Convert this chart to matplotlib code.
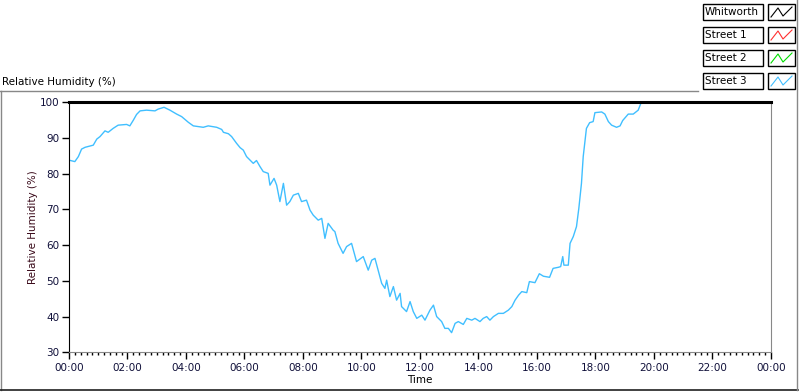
import numpy as np
import matplotlib
matplotlib.use("Agg")
import matplotlib.pyplot as plt
from matplotlib.ticker import MultipleLocator, FuncFormatter
from matplotlib.lines import Line2D
from matplotlib.patches import Rectangle

# ---- data (hours since midnight, % RH) ----
street3_hours = [0.0, 0.2, 0.32, 0.43, 0.55, 0.83, 0.95, 1.06, 1.23, 1.34, 1.51, 1.68, 1.97,
                 2.08, 2.2, 2.31, 2.43, 2.65, 2.94, 3.05, 3.25, 3.45, 3.68, 3.85, 4.08, 4.25,
                 4.59, 4.76, 5.05, 5.22, 5.28, 5.45, 5.56, 5.73, 5.85, 5.96, 6.07, 6.19, 6.3,
                 6.41, 6.53, 6.64, 6.81, 6.87, 7.01, 7.1, 7.21, 7.33, 7.44, 7.55, 7.67, 7.84,
                 7.95, 8.12, 8.24, 8.35, 8.52, 8.64, 8.75, 8.86, 9.03, 9.09, 9.2, 9.37, 9.49,
                 9.66, 9.83, 10.06, 10.23, 10.35, 10.46, 10.57, 10.69, 10.8, 10.86, 10.97,
                 11.09, 11.2, 11.32, 11.37, 11.54, 11.66, 11.77, 11.89, 12.06, 12.17, 12.34,
                 12.46, 12.57, 12.74, 12.85, 12.97, 13.08, 13.2, 13.31, 13.48, 13.6, 13.77,
                 13.88, 14.05, 14.16, 14.28, 14.39, 14.51, 14.68, 14.85, 15.02, 15.14, 15.25,
                 15.37, 15.48, 15.65, 15.74, 15.93, 16.08, 16.22, 16.43, 16.55, 16.73, 16.81,
                 16.88, 16.92, 17.07, 17.13, 17.24, 17.35, 17.43, 17.52, 17.58, 17.63, 17.69,
                 17.8, 17.92, 17.98, 18.21, 18.32, 18.44, 18.55, 18.72, 18.84, 18.93, 19.12,
                 19.29, 19.46, 19.55, 19.62]
street3_rh = [83.8, 83.4, 84.8, 86.9, 87.4, 88.0, 89.7, 90.4, 92.0, 91.6, 92.7, 93.6, 93.8,
              93.4, 95.0, 96.6, 97.6, 97.8, 97.6, 98.1, 98.6, 97.8, 96.7, 96.0, 94.4, 93.4,
              93.0, 93.4, 93.0, 92.4, 91.6, 91.2, 90.4, 88.5, 87.3, 86.6, 84.8, 83.8, 82.9,
              83.7, 82.0, 80.6, 80.1, 76.8, 78.7, 76.8, 72.2, 77.3, 71.2, 72.2, 74.0, 74.5,
              72.2, 72.6, 69.8, 68.4, 67.0, 67.5, 61.9, 66.1, 64.2, 63.8, 60.5, 57.7, 59.6,
              60.5, 55.4, 56.8, 53.0, 55.8, 56.3, 53.0, 49.3, 47.9, 50.2, 45.6,
              48.4, 44.6, 46.5, 42.8, 41.4, 44.2, 41.4, 39.5, 40.4, 39.0, 41.8,
              43.2, 40.0, 38.6, 36.7, 36.7, 35.5, 38.1, 38.6, 37.8, 39.5, 39.0,
              39.5, 38.6, 39.5, 40.0, 39.0, 40.0, 40.9, 40.9, 41.8, 42.8, 44.6,
              46.0, 47.0, 46.7, 49.8, 49.5, 52.0, 51.3, 51.0, 53.5, 53.8, 54.0,
              56.8, 54.4, 54.4, 60.5, 62.4, 65.2, 70.3, 77.3, 84.8, 88.5, 92.7,
              94.3, 94.6, 97.1, 97.3, 96.7, 94.6, 93.6, 93.0, 93.4, 94.9, 96.7,
              96.7, 97.8, 99.7, 100.0]
whitworth_hours = [0, 24]
whitworth_rh = [100, 100]

legend_names = ["Whitworth", "Street 1", "Street 2", "Street 3"]
legend_colors = ["#000000", "#ff3030", "#00dd00", "#40bfff"]

plt.rcParams['font.family'] = ['DejaVu Sans']

fig = plt.figure(figsize=(8, 3.92), dpi=100)
ax = fig.add_axes([69/800, 1-352.3/392, 702/800, 250/392])

ax.plot(street3_hours, street3_rh, color="#40bfff", lw=1.0)
ax.plot(whitworth_hours, whitworth_rh, color="black", lw=2.2, clip_on=False, zorder=5)

ax.set_xlim(0, 24)
ax.set_ylim(30, 100)
ax.xaxis.set_major_locator(MultipleLocator(2))
ax.xaxis.set_minor_locator(MultipleLocator(0.2))
ax.yaxis.set_major_locator(MultipleLocator(10))
ax.xaxis.set_major_formatter(FuncFormatter(lambda v, p: "%02d:00" % (int(round(v)) % 24)))

ax.tick_params(axis="x", which="major", length=5, width=1, labelsize=7.5, pad=3,
               colors="black", labelcolor="#10103a")
ax.tick_params(axis="x", which="minor", length=2.5, width=1, colors="black")
ax.tick_params(axis="y", which="major", length=5, width=1, labelsize=7.5, pad=2,
               colors="black", labelcolor="#10103a")

for s in ["bottom", "right"]:
    ax.spines[s].set_color("#888888")
ax.spines["left"].set_color("black")
ax.spines["top"].set_visible(False)

ax.set_xlabel("Time", fontsize=7.5, labelpad=1)
ax.set_ylabel("Relative Humidity (%)", fontsize=7.5, color="#3a0a1a", labelpad=1)

# plot title label at top left
fig.text(2/800, 1-82/392, "Relative Humidity (%)", fontsize=7.5, va="center", ha="left")

# outer frame lines
fig.add_artist(Line2D([0, 698/800], [1-91/392, 1-91/392], color="#888888", lw=1))
fig.add_artist(Line2D([1/800, 1/800], [1-91/392, 1-390/392], color="#888888", lw=1))
fig.add_artist(Line2D([0, 798/800], [1-390/392, 1-390/392], color="#202020", lw=1.2))
fig.add_artist(Line2D([797/800, 797/800], [1-390/392, 1.0], color="#888888", lw=1))

# legend boxes
row_tops = [4, 27, 50, 73]
for name, col, top in zip(legend_names, legend_colors, row_tops):
    h = 16
    fig.add_artist(Rectangle((703/800, 1-(top+h)/392), 60/800, h/392, fill=False,
                             edgecolor="black", lw=1))
    fig.text(705/800, 1-(top+h/2)/392, name, fontsize=7.5, va="center", ha="left")
    fig.add_artist(Rectangle((768/800, 1-(top+h)/392), 27/800, h/392, fill=False,
                             edgecolor="black", lw=1))
    xs = np.array([771, 778, 783, 792]) / 800
    ys = 1 - np.array([top+13, top+4, top+12, top+3]) / 392
    fig.add_artist(Line2D(xs, ys, color=col, lw=0.8))

fig.savefig("out.png", dpi=100)
